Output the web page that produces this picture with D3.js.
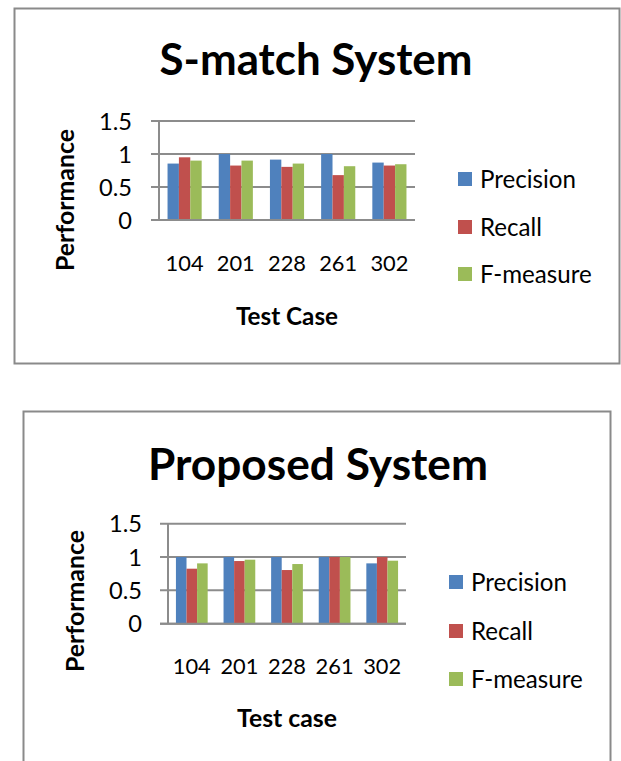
<!DOCTYPE html>
<html>
<head>
<meta charset="utf-8">
<script src="https://cdn.jsdelivr.net/npm/d3@7/dist/d3.min.js"></script>
<style>
  html, body { margin: 0; padding: 0; background: #fff; }
  svg { display: block; }
  text { font-family: Lato, "Open Sans", sans-serif; fill: #000; }
</style>
</head>
<body>
<svg id="chart" width="621" height="761"></svg>
<script>
// Test cases and measures shared by both charts
const testCases = ["104", "201", "228", "261", "302"];
const measures = ["Precision", "Recall", "F-measure"];
const measureColors = ["#4F81BD", "#C0504D", "#9BBB59"];
const yTicks = [0, 0.5, 1, 1.5];

// S-match System results per test case
const smatchPrecision = [0.855, 1.0, 0.915, 1.0, 0.87];
const smatchRecall    = [0.95, 0.825, 0.805, 0.68, 0.825];
const smatchFMeasure  = [0.90, 0.90, 0.855, 0.815, 0.845];

// Proposed System results per test case
const proposedPrecision = [1.0, 1.0, 1.0, 1.0, 0.905];
const proposedRecall    = [0.825, 0.94, 0.805, 1.0, 1.0];
const proposedFMeasure  = [0.905, 0.96, 0.895, 1.0, 0.945];

const svg = d3.select("#chart");

// Font size at which a text element spans the given width
function sizeForWidth(sel, width) {
  const size = parseFloat(sel.attr("font-size"));
  const w = sel.node().getComputedTextLength();
  return w > 0 ? size * width / w : size;
}
function fitWidth(sel, width) {
  return sel.attr("font-size", sizeForWidth(sel, width).toFixed(2));
}

function drawChart(cfg) {
  const g = svg.append("g");

  // chart frame
  g.append("rect")
    .attr("x", cfg.frame[0]).attr("y", cfg.frame[1])
    .attr("width", cfg.frame[2]).attr("height", cfg.frame[3])
    .attr("fill", "#fff").attr("stroke", "#8a8a8a").attr("stroke-width", 2);

  const series = cfg.series.map((vals, i) => ({ name: measures[i], color: measureColors[i], vals }));

  const x0 = d3.scaleBand().domain(testCases).range([cfg.left, cfg.right])
    .paddingInner(1.5 / 4.5).paddingOuter(0.75 / 4.5);
  const x1 = d3.scaleBand().domain(measures).range([0, x0.bandwidth()]);
  const y = d3.scaleLinear().domain([0, 1.5]).range([cfg.bottom, cfg.top]);

  // horizontal gridlines with outer tick marks
  g.append("g").selectAll("line").data(yTicks).join("line")
    .attr("x1", cfg.left - 8).attr("x2", cfg.right)
    .attr("y1", d => y(d)).attr("y2", d => y(d))
    .attr("stroke", "#8c8c8c").attr("stroke-width", 2);

  // vertical axis line
  g.append("line")
    .attr("x1", cfg.left).attr("x2", cfg.left)
    .attr("y1", y(1.5)).attr("y2", y(0))
    .attr("stroke", "#8c8c8c").attr("stroke-width", 2);

  // bars
  const groups = g.append("g").selectAll("g").data(testCases).join("g")
    .attr("transform", d => `translate(${x0(d)},0)`);
  groups.selectAll("rect")
    .data((d, ci) => series.map(s => ({ name: s.name, color: s.color, v: s.vals[ci] })))
    .join("rect")
    .attr("x", d => x1(d.name))
    .attr("width", x1.bandwidth())
    .attr("y", d => y(d.v))
    .attr("height", d => y(0) - y(d.v))
    .attr("fill", d => d.color);

  // redraw the baseline over the bars
  g.append("line")
    .attr("x1", cfg.left - 8).attr("x2", cfg.right)
    .attr("y1", y(0)).attr("y2", y(0))
    .attr("stroke", "#8c8c8c").attr("stroke-width", 2);

  // y tick labels
  const ticks = g.append("g").selectAll("text").data(yTicks).join("text")
    .attr("x", cfg.tickRight).attr("y", d => y(d))
    .attr("dy", "0.36em")
    .attr("text-anchor", "end")
    .attr("font-size", 20)
    .text(d => d3.format("")(d));
  const tickSize = sizeForWidth(ticks.filter(d => d === 1.5), cfg.tickW);
  ticks.attr("font-size", tickSize.toFixed(2));

  // category labels
  const cats = g.append("g").selectAll("text").data(testCases).join("text")
    .attr("x", d => x0(d) + x0.bandwidth() / 2)
    .attr("y", cfg.catY).attr("dy", "0.36em")
    .attr("text-anchor", "middle")
    .attr("font-size", 20)
    .text(d => d);
  const catSize = sizeForWidth(cats.filter((d, i) => i === 0), cfg.catW);
  cats.attr("font-size", catSize.toFixed(2));

  // title
  fitWidth(g.append("text")
    .attr("x", cfg.titleX).attr("y", cfg.titleY)
    .attr("text-anchor", "middle")
    .attr("font-size", 44).attr("font-weight", "bold")
    .text(cfg.title), cfg.titleW);

  // axis titles
  fitWidth(g.append("text")
    .attr("transform", `translate(${cfg.yTitleX},${cfg.yTitleY}) rotate(-90)`)
    .attr("text-anchor", "middle").attr("dy", "0.36em")
    .attr("font-size", 18).attr("font-weight", "bold")
    .text("Performance"), cfg.yTitleW);

  fitWidth(g.append("text")
    .attr("x", cfg.xTitleX).attr("y", cfg.xTitleY)
    .attr("text-anchor", "middle").attr("dy", "0.36em")
    .attr("font-size", 18).attr("font-weight", "bold")
    .text(cfg.xTitle), cfg.xTitleW);

  // legend
  const leg = g.append("g").selectAll("g").data(series).join("g")
    .attr("transform", (d, i) => `translate(${cfg.legX},${cfg.legY[i]})`);
  leg.append("rect")
    .attr("x", 0).attr("y", -7).attr("width", 14).attr("height", 14)
    .attr("fill", d => d.color);
  const legText = leg.append("text")
    .attr("x", cfg.legTextDx).attr("dy", "0.36em")
    .attr("font-size", 20)
    .text(d => d.name);
  const legSize = sizeForWidth(legText.filter((d, i) => i === 0), cfg.legW);
  legText.attr("font-size", legSize.toFixed(2));
}

drawChart({
  frame: [14.5, 8.5, 605, 355],
  series: [smatchPrecision, smatchRecall, smatchFMeasure],
  left: 159, right: 415, top: 121, bottom: 220,
  tickRight: 132, tickW: 33, catY: 263, catW: 38,
  title: "S-match System", titleX: 316, titleY: 75, titleW: 313,
  yTitleX: 65, yTitleY: 200, yTitleW: 142,
  xTitle: "Test Case", xTitleX: 287, xTitleY: 316, xTitleW: 102,
  legX: 458, legY: [179, 227, 274], legTextDx: 22, legW: 96
});

drawChart({
  frame: [23.5, 411.5, 587, 400],
  series: [proposedPrecision, proposedRecall, proposedFMeasure],
  left: 168, right: 406, top: 523.7, bottom: 623.7,
  tickRight: 142, tickW: 33, catY: 666, catW: 38,
  title: "Proposed System", titleX: 318, titleY: 480, titleW: 340,
  yTitleX: 75, yTitleY: 601, yTitleW: 142,
  xTitle: "Test case", xTitleX: 287, xTitleY: 718, xTitleW: 100,
  legX: 449, legY: [582, 631, 679], legTextDx: 22, legW: 96
});
</script>
</body>
</html>
